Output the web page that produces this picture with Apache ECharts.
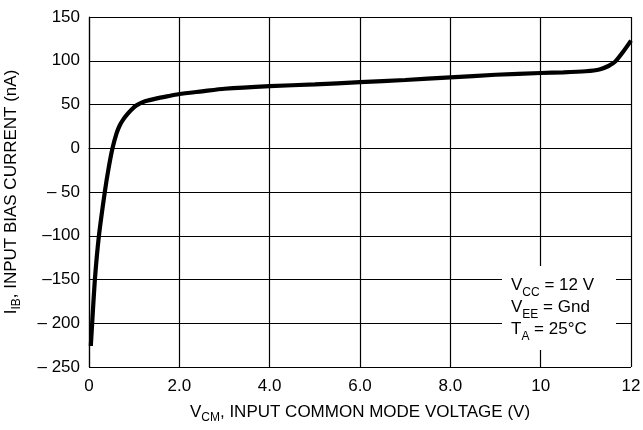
<!DOCTYPE html>
<html>
<head>
<meta charset="utf-8">
<script src="https://cdn.jsdelivr.net/npm/echarts@6/dist/echarts.min.js"></script>
<style>
html, body { margin: 0; padding: 0; background: #fff; }
#chart { width: 643px; height: 430px; }
</style>
</head>
<body>
<div id="chart"></div>
<script>
// curve: common mode voltage (V) vs bias current (nA)
var vcm = [0.04, 0.07, 0.13, 0.22, 0.35, 0.43, 0.52, 0.61, 0.68, 0.76, 0.85, 0.94, 1.05, 1.24, 1.5, 1.8, 2.0, 2.5, 3.0, 4.0, 5.0, 6.0, 7.0, 8.0, 9.0, 10.0, 10.5, 11.0, 11.3, 11.5, 11.65, 11.85, 12.0];
var iib = [-226, -200, -150, -100, -50, -24, 0, 17, 26, 33, 39, 44, 49, 53.6, 57, 60, 62, 65, 68, 71, 73, 75.5, 78, 81, 84, 86, 86.7, 88, 90, 94, 99, 112, 123];

var xTicks = {0: '0', 2: '2.0', 4: '4.0', 6: '6.0', 8: '8.0', 10: '10', 12: '12'};
var yTicks = {150: '150', 100: '100', 50: '50', 0: '0', '-50': '\u2013 50', '-100': '\u2013100', '-150': '\u2013150', '-200': '\u2013 200', '-250': '\u2013 250'};

var font = '"Liberation Sans", Arial, sans-serif';

var points = vcm.map(function (v, i) { return [v, iib[i]]; });

var richSub = {
	m: { fontSize: 17, fontFamily: font, color: '#000', lineHeight: 20, verticalAlign: 'top' },
	s: { fontSize: 12, fontFamily: font, color: '#000', lineHeight: 20, verticalAlign: 'bottom', padding: [7, 0, 0, 0] }
};

var chart = echarts.init(document.getElementById('chart'));
chart.setOption({
	animation: false,
	backgroundColor: '#fff',
	textStyle: { fontFamily: font, color: '#000' },
	grid: { left: 89, top: 17, right: 12, bottom: 63, outerBoundsMode: 'none', containLabel: false },
	xAxis: {
		type: 'value',
		min: 0, max: 12, interval: 2,
		axisLine: { show: true, lineStyle: { color: '#000', width: 1.2 } },
		axisTick: { show: false },
		splitLine: { show: true, lineStyle: { color: '#000', width: 1.2 } },
		axisLabel: {
			color: '#000', fontSize: 17, fontFamily: font, margin: 11,
			formatter: function (v) { return xTicks[v]; }
		},
		name: '{m|V}{s|CM}{m|, INPUT COMMON MODE VOLTAGE (V)}',
		nameLocation: 'middle',
		nameGap: 37,
		nameTextStyle: { rich: richSub }
	},
	yAxis: {
		type: 'value',
		min: -250, max: 150, interval: 50,
		axisLine: { show: true, lineStyle: { color: '#000', width: 1.2 } },
		axisTick: { show: false },
		splitLine: { show: true, lineStyle: { color: '#000', width: 1.2 } },
		axisLabel: {
			color: '#000', fontSize: 17, fontFamily: font, margin: 9,
			formatter: function (v) { return yTicks[v]; }
		},
		name: '{m|I}{s|IB}{m|, INPUT BIAS CURRENT (nA)}',
		nameLocation: 'middle',
		nameGap: 66,
		nameTextStyle: { rich: richSub }
	},
	graphic: [
		{
			type: 'rect',
			shape: { x: 502, y: 266, width: 114, height: 84 },
			style: { fill: '#fff' },
			z: 10
		},
		{
			type: 'text',
			left: 511, top: 277,
			z: 11,
			style: {
				text: '{m|V}{s|CC}{m| = 12 V}\n{m|V}{s|EE}{m| = Gnd}\n{m|T}{s|A}{m| = 25\u00b0C}',
				fill: '#000',
				rich: {
					m: { fontSize: 17, fontFamily: font, fill: '#000', lineHeight: 22, verticalAlign: 'top' },
					s: { fontSize: 12, fontFamily: font, fill: '#000', lineHeight: 22, verticalAlign: 'bottom', padding: [7, 0, 0, 0] }
				}
			}
		}
	],
	series: [
		{
			type: 'line',
			data: points,
			showSymbol: false,
			smooth: 0.2,
			lineStyle: { color: '#000', width: 4.2 },
			z: 5
		}
	]
});
</script>
</body>
</html>
